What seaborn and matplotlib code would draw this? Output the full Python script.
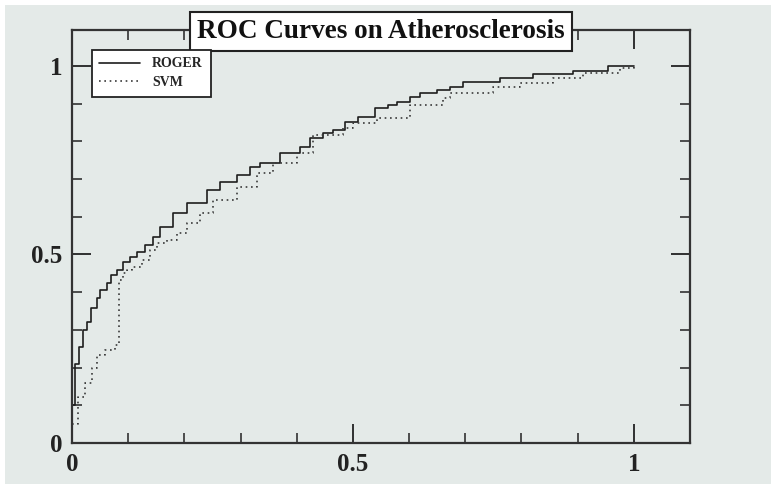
import numpy as np
import pandas as pd
import matplotlib
matplotlib.use("Agg")
import matplotlib.pyplot as plt
import seaborn as sns
from matplotlib.ticker import MultipleLocator
from matplotlib.patches import Rectangle

# ---- data ----
roger_fpr = [0.0, 0.0, 0.006, 0.012, 0.020, 0.027, 0.034, 0.044, 0.050, 0.062, 0.070,
             0.080, 0.090, 0.103, 0.115, 0.130, 0.144, 0.157, 0.180, 0.205, 0.240,
             0.263, 0.294, 0.317, 0.335, 0.370, 0.406, 0.424, 0.447, 0.464, 0.486,
             0.509, 0.539, 0.562, 0.578, 0.601, 0.619, 0.649, 0.673, 0.696, 0.762,
             0.820, 0.891, 0.954, 1.000]
roger_tpr = [0.0, 0.10, 0.21, 0.255, 0.300, 0.320, 0.358, 0.385, 0.405, 0.424, 0.445,
             0.459, 0.480, 0.493, 0.507, 0.525, 0.546, 0.573, 0.610, 0.637, 0.671,
             0.692, 0.710, 0.732, 0.743, 0.769, 0.785, 0.809, 0.822, 0.830, 0.851,
             0.865, 0.889, 0.897, 0.905, 0.918, 0.928, 0.936, 0.944, 0.958, 0.968,
             0.979, 0.987, 1.000, 1.000]

svm_fpr = [0.0, 0.011, 0.023, 0.036, 0.044, 0.059, 0.077, 0.083, 0.090, 0.098, 0.107,
           0.125, 0.139, 0.151, 0.169, 0.187, 0.205, 0.228, 0.251, 0.294, 0.329,
           0.358, 0.400, 0.429, 0.482, 0.500, 0.543, 0.601, 0.660, 0.673, 0.749,
           0.797, 0.856, 0.910, 0.975, 1.000]
svm_tpr = [0.05, 0.122, 0.159, 0.200, 0.233, 0.247, 0.260, 0.432, 0.450, 0.459, 0.467,
           0.485, 0.512, 0.530, 0.538, 0.557, 0.584, 0.610, 0.645, 0.679, 0.716,
           0.743, 0.769, 0.817, 0.835, 0.849, 0.862, 0.897, 0.915, 0.928, 0.944,
           0.955, 0.968, 0.981, 0.995, 1.000]

series_names = ["ROGER", "SVM"]
title = "ROC Curves on Atherosclerosis"
x_ticks = [0, 0.5, 1]
x_ticklabels = ["0", "0.5", "1"]
y_ticks = [0, 0.5, 1]
y_ticklabels = ["0", "0.5", "1"]

df = pd.concat([
    pd.DataFrame({"fpr": roger_fpr, "tpr": roger_tpr, "method": series_names[0]}),
    pd.DataFrame({"fpr": svm_fpr, "tpr": svm_tpr, "method": series_names[1]}),
], ignore_index=True)

sns.set_theme(style="ticks")
plt.rcParams["font.family"] = ["Liberation Serif", "DejaVu Serif"]
plt.rcParams["font.weight"] = "bold"

BG = "#e4eae8"
fig = plt.figure(figsize=(7.71, 4.84), dpi=100, facecolor="white")
fig.patches.append(Rectangle((5 / 771, 0), 766 / 771, 479 / 484, transform=fig.transFigure,
                             facecolor=BG, edgecolor="none", zorder=-10))
ax = fig.add_axes([72 / 771, (484 - 443) / 484, 618 / 771, 413 / 484])
ax.set_facecolor(BG)

sns.lineplot(data=df[df.method == series_names[0]], x="fpr", y="tpr", ax=ax,
             estimator=None, sort=False, drawstyle="steps-post",
             color="#1e1e1e", linewidth=1.2, label=series_names[0])
sns.lineplot(data=df[df.method == series_names[1]], x="fpr", y="tpr", ax=ax,
             estimator=None, sort=False, drawstyle="steps-post",
             color="#3a3a3a", linewidth=1.2, linestyle=(0, (1, 2.2)), label=series_names[1])

ax.set_xlim(0, 1.1)
ax.set_ylim(0, 1.095)
ax.set_xlabel("")
ax.set_ylabel("")

ax.set_xticks(x_ticks)
ax.set_xticklabels(x_ticklabels)
ax.set_yticks(y_ticks)
ax.set_yticklabels(y_ticklabels)
ax.xaxis.set_minor_locator(MultipleLocator(0.1))
ax.yaxis.set_minor_locator(MultipleLocator(0.1))
ax.tick_params(which="major", direction="in", length=14, width=1.3, top=True, right=True,
               labelsize=18, color="#222222", pad=7)
ax.tick_params(which="minor", direction="in", length=7, width=1.1, top=True, right=True,
               color="#222222")
for lab in ax.get_xticklabels() + ax.get_yticklabels():
    lab.set_fontweight("bold")
    lab.set_color("#222222")
for sp in ax.spines.values():
    sp.set_visible(True)
    sp.set_linewidth(1.6)
    sp.set_color("#333333")

ax.set_title(title, fontsize=19.5, fontweight="bold", color="#111111", y=1.0, pad=-1,
             va="center",
             bbox=dict(boxstyle="square,pad=0.25", facecolor="white", edgecolor="#222222",
                       linewidth=1.5))

leg = ax.legend(loc="upper left", bbox_to_anchor=(0.032, 0.952), borderaxespad=0,
                frameon=True, fancybox=False, handlelength=2.9,
                handletextpad=0.9, borderpad=0.55, labelspacing=0.4,
                prop={"weight": "bold", "size": 10})
leg.get_frame().set_edgecolor("#222222")
leg.get_frame().set_linewidth(1.3)
leg.get_frame().set_facecolor("white")
leg.get_frame().set_alpha(1)

fig.savefig("out.png", dpi=100, facecolor=fig.get_facecolor())
